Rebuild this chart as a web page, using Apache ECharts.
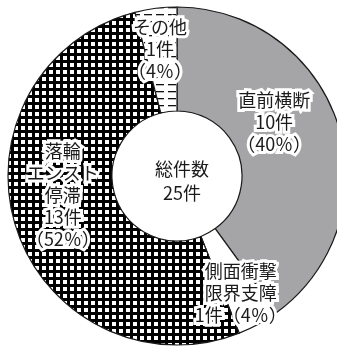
<!DOCTYPE html>
<html>
<head>
<meta charset="utf-8">
<script src="https://cdn.jsdelivr.net/npm/echarts@6/dist/echarts.min.js"></script>
<style>
  html, body { margin: 0; padding: 0; background: #fff; }
  #main { width: 337px; height: 350px; }
</style>
</head>
<body>
<div id="main"></div>
<script>
// 件数データ（上から時計回り）
const names = ['直前横断', '側面衝撃\n限界支障', '落輪\nエンスト\n停滞', 'その他'];
const counts = [10, 1, 13, 1];
const labelJoin = ['\n', '', '\n', '\n'];   // 件数と割合の間
const labelShift = [[-17, -17], [6, 12], [0, -18], [-2, -8]];
const totalText = ['総件数', '25件'];

// 網掛けパターン
function crossHatch() {
  let c = document.createElement('canvas');
  c.width = 7; c.height = 7;
  let g = c.getContext('2d');
  g.fillStyle = '#000';
  g.fillRect(0, 0, 7, 7);
  g.fillStyle = '#fff';
  g.fillRect(0, 0, 4, 4);
  return c;
}
function dashLines() {
  let c = document.createElement('canvas');
  c.width = 12; c.height = 7;
  let g = c.getContext('2d');
  g.fillStyle = '#fff';
  g.fillRect(0, 0, 12, 7);
  g.fillStyle = '#111';
  g.fillRect(0, 0, 8, 1.3);
  return c;
}

const fills = [
  '#a5a5a8',
  '#ffffff',
  { image: crossHatch(), repeat: 'repeat' },
  { image: dashLines(), repeat: 'repeat' }
];

let chart = echarts.init(document.getElementById('main'), null, { renderer: 'canvas' });

let option = {
  animation: false,
  title: {
    text: totalText.join('\n'),
    left: 177,
    top: 152,
    textAlign: 'center',
    textStyle: {
      fontFamily: '"Noto Sans CJK JP"',
      fontSize: 18,
      fontWeight: 'normal',
      lineHeight: 24,
      color: '#1a1a1a'
    }
  },
  series: [
    {
      type: 'pie',
      center: [177, 176],
      radius: [65, 169],
      startAngle: 90,
      clockwise: true,
      data: names.map((n, i) => ({
        name: n,
        value: counts[i],
        itemStyle: { color: fills[i] }
      })),
      itemStyle: {
        borderColor: '#1a1a1a',
        borderWidth: 1.2
      },
      label: {
        show: true,
        position: 'inside',
        fontFamily: '"Noto Sans CJK JP"',
        fontSize: 18,
        lineHeight: 22,
        color: '#1a1a1a',
        textBorderColor: '#fff',
        textBorderWidth: 6,
        formatter: function (p) {
          return p.name + '\n' + p.value + '件' + labelJoin[p.dataIndex] + '（' + Math.round(p.percent) + '％）';
        }
      },
      labelLine: { show: false },
      labelLayout: function (p) {
        let s = labelShift[p.dataIndex];
        return { dx: s[0], dy: s[1] };
      },
      emphasis: { disabled: true }
    }
  ]
};

chart.setOption(option);
</script>
</body>
</html>
